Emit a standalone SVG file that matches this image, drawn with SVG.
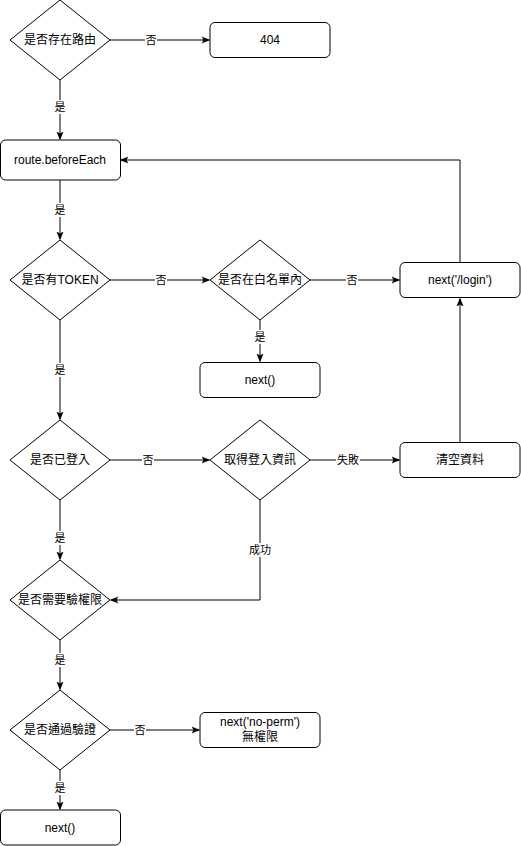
<svg xmlns="http://www.w3.org/2000/svg" width="521" height="846" viewBox="0 0 521 846">
<style>
.n{fill:#fff;stroke:#000;stroke-width:1}
.t{font-family:"Liberation Sans","Noto Sans CJK TC",sans-serif;font-size:12px;fill:#000;text-anchor:middle;dominant-baseline:central}
.e{fill:none;stroke:#000;stroke-width:1}
.lb{fill:#fff}
.lt{font-family:"Liberation Sans","Noto Sans CJK TC",sans-serif;font-size:11px;fill:#000;text-anchor:middle;dominant-baseline:central}
</style>
<defs>
<marker id="a" viewBox="0 0 10 10" refX="9" refY="5" markerWidth="8" markerHeight="8" orient="auto" markerUnits="userSpaceOnUse">
<path d="M0,1 L10,5 L0,9 L2.5,5 Z" fill="#000" stroke="#000" stroke-width="0.5"/>
</marker>
</defs>
<rect width="521" height="846" fill="#fff"/>
<g id="connectors">
<path class="e" d="M110,40 L209,40" marker-end="url(#a)"/>
<rect class="lb" x="145" y="33" width="12" height="14"/><text class="lt" x="151" y="40">否</text>
<path class="e" d="M60,80 L60,139" marker-end="url(#a)"/>
<rect class="lb" x="54" y="100" width="12" height="14"/><text class="lt" x="60" y="107">是</text>
<path class="e" d="M60,180 L60,239" marker-end="url(#a)"/>
<rect class="lb" x="54" y="203" width="12" height="14"/><text class="lt" x="60" y="210">是</text>
<path class="e" d="M110,280 L209,280" marker-end="url(#a)"/>
<rect class="lb" x="155" y="273" width="12" height="14"/><text class="lt" x="161" y="280">否</text>
<path class="e" d="M310,280 L399,280" marker-end="url(#a)"/>
<rect class="lb" x="346" y="273" width="12" height="14"/><text class="lt" x="352" y="280">否</text>
<path class="e" d="M260,320 L260,361" marker-end="url(#a)"/>
<rect class="lb" x="254" y="330" width="12" height="14"/><text class="lt" x="260" y="337">是</text>
<path class="e" d="M460,262 L460,160 L121,160" marker-end="url(#a)"/>
<path class="e" d="M60,320 L60,419" marker-end="url(#a)"/>
<rect class="lb" x="54" y="363" width="12" height="14"/><text class="lt" x="60" y="370">是</text>
<path class="e" d="M110,460 L209,460" marker-end="url(#a)"/>
<rect class="lb" x="142" y="453" width="12" height="14"/><text class="lt" x="148" y="460">否</text>
<path class="e" d="M310,460 L399,460" marker-end="url(#a)"/>
<rect class="lb" x="336" y="453" width="24" height="14"/><text class="lt" x="348" y="460">失敗</text>
<path class="e" d="M460,442 L460,299" marker-end="url(#a)"/>
<path class="e" d="M260,500 L260,600 L111,600" marker-end="url(#a)"/>
<rect class="lb" x="248" y="543" width="24" height="14"/><text class="lt" x="260" y="550">成功</text>
<path class="e" d="M60,500 L60,559" marker-end="url(#a)"/>
<rect class="lb" x="54" y="531" width="12" height="14"/><text class="lt" x="60" y="538">是</text>
<path class="e" d="M60,640 L60,689" marker-end="url(#a)"/>
<rect class="lb" x="54" y="653" width="12" height="14"/><text class="lt" x="60" y="660">是</text>
<path class="e" d="M110,730 L199,730" marker-end="url(#a)"/>
<rect class="lb" x="134" y="723" width="12" height="14"/><text class="lt" x="140" y="730">否</text>
<path class="e" d="M60,770 L60,809" marker-end="url(#a)"/>
<rect class="lb" x="54" y="781" width="12" height="14"/><text class="lt" x="60" y="788">是</text>
</g>
<g id="d1"><path class="n" d="M60,0 L110,40 L60,80 L10,40 Z"/><text class="t" x="60" y="40">是否存在路由</text></g>
<g id="n404"><rect class="n" x="210" y="22.5" width="120" height="35" rx="5"/><text class="t" x="270" y="40">404</text></g>
<g id="before"><rect class="n" x="0.5" y="140" width="120" height="40" rx="5"/><text class="t" x="60" y="160">route.beforeEach</text></g>
<g id="d2"><path class="n" d="M60,240 L110,280 L60,320 L10,280 Z"/><text class="t" x="60" y="280">是否有TOKEN</text></g>
<g id="d3"><path class="n" d="M260,240 L310,280 L260,320 L210,280 Z"/><text class="t" x="260" y="280">是否在白名單內</text></g>
<g id="login"><rect class="n" x="400" y="262.5" width="120" height="35" rx="5"/><text class="t" x="460" y="280">next('/login')</text></g>
<g id="next1"><rect class="n" x="200" y="362.5" width="120" height="35" rx="5"/><text class="t" x="260" y="380">next()</text></g>
<g id="d4"><path class="n" d="M60,420 L110,460 L60,500 L10,460 Z"/><text class="t" x="60" y="460">是否已登入</text></g>
<g id="d5"><path class="n" d="M260,420 L310,460 L260,500 L210,460 Z"/><text class="t" x="260" y="460">取得登入資訊</text></g>
<g id="clear"><rect class="n" x="400" y="442.5" width="120" height="35" rx="5"/><text class="t" x="460" y="460">清空資料</text></g>
<g id="d6"><path class="n" d="M60,560 L110,600 L60,640 L10,600 Z"/><text class="t" x="60" y="600">是否需要驗權限</text></g>
<g id="d7"><path class="n" d="M60,690 L110,730 L60,770 L10,730 Z"/><text class="t" x="60" y="730">是否通過驗證</text></g>
<g id="noperm"><rect class="n" x="200" y="712.5" width="120" height="35" rx="5"/><text class="t" x="260" y="722">next('no-perm')</text><text class="t" x="260" y="737">無權限</text></g>
<g id="next2"><rect class="n" x="0.5" y="810" width="120" height="35" rx="5"/><text class="t" x="60" y="827.5">next()</text></g>
</svg>
